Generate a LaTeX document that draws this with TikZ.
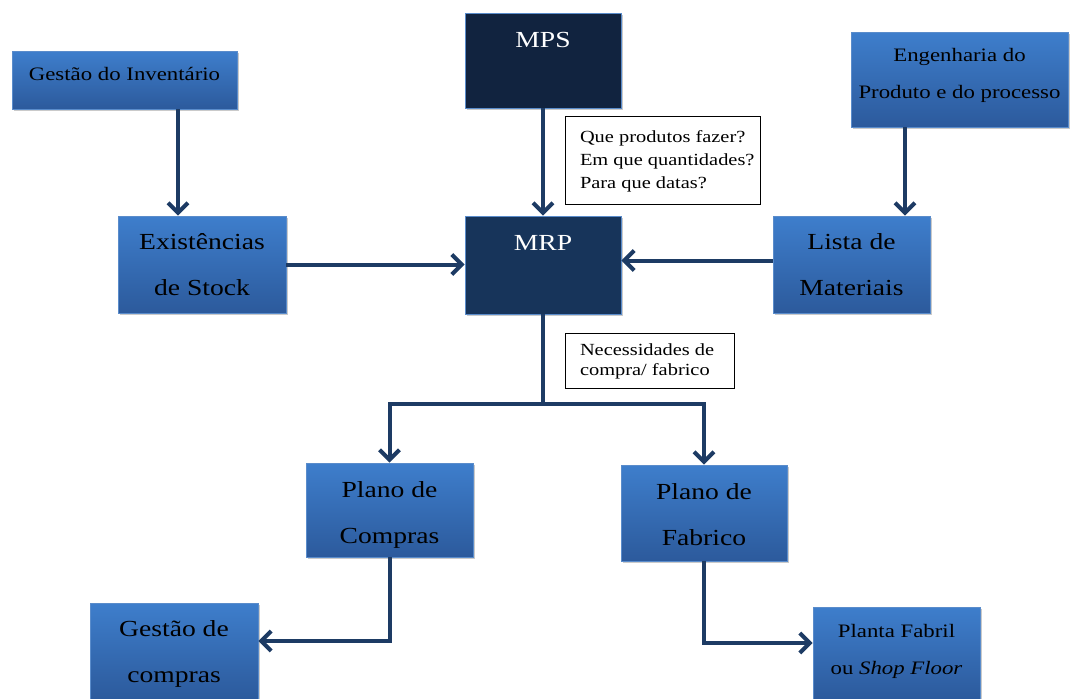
\documentclass[tikz,border=0pt]{standalone}
\usepackage{fontspec}
\setmainfont[FakeStretch=1.2]{Liberation Serif}
\usetikzlibrary{arrows.meta,shadows}
\definecolor{bluetop}{HTML}{3E7ECC}
\definecolor{bluebot}{HTML}{2C5A9C}
\definecolor{blueedge}{HTML}{5A8CCB}
\definecolor{navyA}{HTML}{11233F}
\definecolor{navyB}{HTML}{17345A}
\definecolor{linecol}{HTML}{1D3B64}
\tikzset{
  shade box/.style={draw=blueedge, line width=0.8pt, top color=bluetop, bottom color=bluebot,
    drop shadow={shadow xshift=2pt, shadow yshift=-2pt, opacity=0.35, fill=black!60},
    inner sep=0pt, align=center, text=black},
  dark box/.style={draw=blueedge, line width=0.8pt,
    drop shadow={shadow xshift=2pt, shadow yshift=-2pt, opacity=0.35, fill=black!60},
    inner sep=0pt, align=center, text=white, font=\fontsize{23}{28}\selectfont},
  note box/.style={draw=black, line width=0.8pt, fill=white, inner xsep=0pt, inner ysep=0pt,
    anchor=center},
  big text/.style={font=\fontsize{23}{46}\selectfont},
  small text/.style={font=\fontsize{19}{37}\selectfont},
  conn/.style={draw=linecol, line width=4pt},
  arr/.style={conn, -{Straight Barb[length=10pt,width=20pt]}},
}
\begin{document}
\begin{tikzpicture}[x=1pt,y=-1pt]
\useasboundingbox (0,0) rectangle (1072,699);

\node[shade box, small text, minimum width=225pt, text height=29.5pt, text depth=28.5pt] (inv) at (124.5,80) {Gestão do Inventário};
\node[dark box, fill=navyA, minimum width=156pt, text height=34.5pt, text depth=60.5pt] (mps) at (543,60.5) {MPS};
\node[shade box, small text, minimum width=217pt, minimum height=95pt] (eng) at (959.5,79.5) {Engenharia do\\Produto e do processo\rule[-12pt]{0pt}{1pt}};

\node[shade box, big text, minimum width=168pt, minimum height=97pt] (exist) at (202,264.5) {Existências\\de Stock};
\node[dark box, fill=navyB, minimum width=156pt, text height=34.5pt, text depth=63.5pt] (mrp) at (543,265) {MRP};
\node[shade box, big text, minimum width=157pt, minimum height=97pt] (lista) at (851.5,264.5) {Lista de\\Materiais};

\node[note box, minimum width=195pt, minimum height=88pt, font=\fontsize{17}{23.5}\selectfont] (note1) at (662.5,160.5) {\makebox[195pt][l]{\hspace*{15pt}\begin{tabular}{@{}l@{}}Que produtos fazer?\\[-0.5pt]Em que quantidades?\\[-0.5pt]Para que datas?\end{tabular}}};
\node[note box, minimum width=169pt, minimum height=55pt, font=\fontsize{17}{20}\selectfont] (note2) at (649.5,361) {\makebox[169pt][l]{\hspace*{15pt}\raisebox{-1.5pt}{\begin{tabular}{@{}l@{}}Necessidades de\\[0pt]compra/ fabrico\end{tabular}}}};

\node[shade box, big text, minimum width=167pt, minimum height=94pt] (pcomp) at (389.5,510) {\rule{0pt}{25.6pt}Plano de\\Compras};
\node[shade box, big text, minimum width=166pt, minimum height=96pt] (pfab) at (704,513) {\rule{0pt}{19.6pt}Plano de\\Fabrico};

\node[shade box, big text, minimum width=168pt, minimum height=96pt] (gcomp) at (174,651) {\rule{0pt}{21.7pt}Gestão de\\compras};
\node[shade box, small text, minimum width=167pt, minimum height=92pt] (planta) at (896.5,653) {Planta Fabril\\ou \textit{Shop Floor}\rule[-8.1pt]{0pt}{1pt}};

\coordinate (split) at (543,404);

\draw[arr] ([xshift=53.5pt]inv.south) -- ([xshift=53.5pt]inv.south |- exist.north);
\draw[arr] (mps.south) -- (mrp.north);
\draw[arr] ([xshift=-54.5pt]eng.south) -- ([xshift=-54.5pt]eng.south |- lista.north);
\draw[arr] (exist.east) -- (exist.east -| mrp.west);
\draw[arr] ([yshift=4pt]lista.west) -- ([yshift=4pt]lista.west -| mrp.east);
\draw[conn] (mrp.south) -- (split);
\draw[arr] (split) -| (pcomp.north);
\draw[arr] (split) -| (pfab.north);
\draw[arr] (pcomp.south) |- ([yshift=10pt]gcomp.east);
\draw[arr] (pfab.south) |- ([yshift=10pt]planta.west);
\end{tikzpicture}
\end{document}
